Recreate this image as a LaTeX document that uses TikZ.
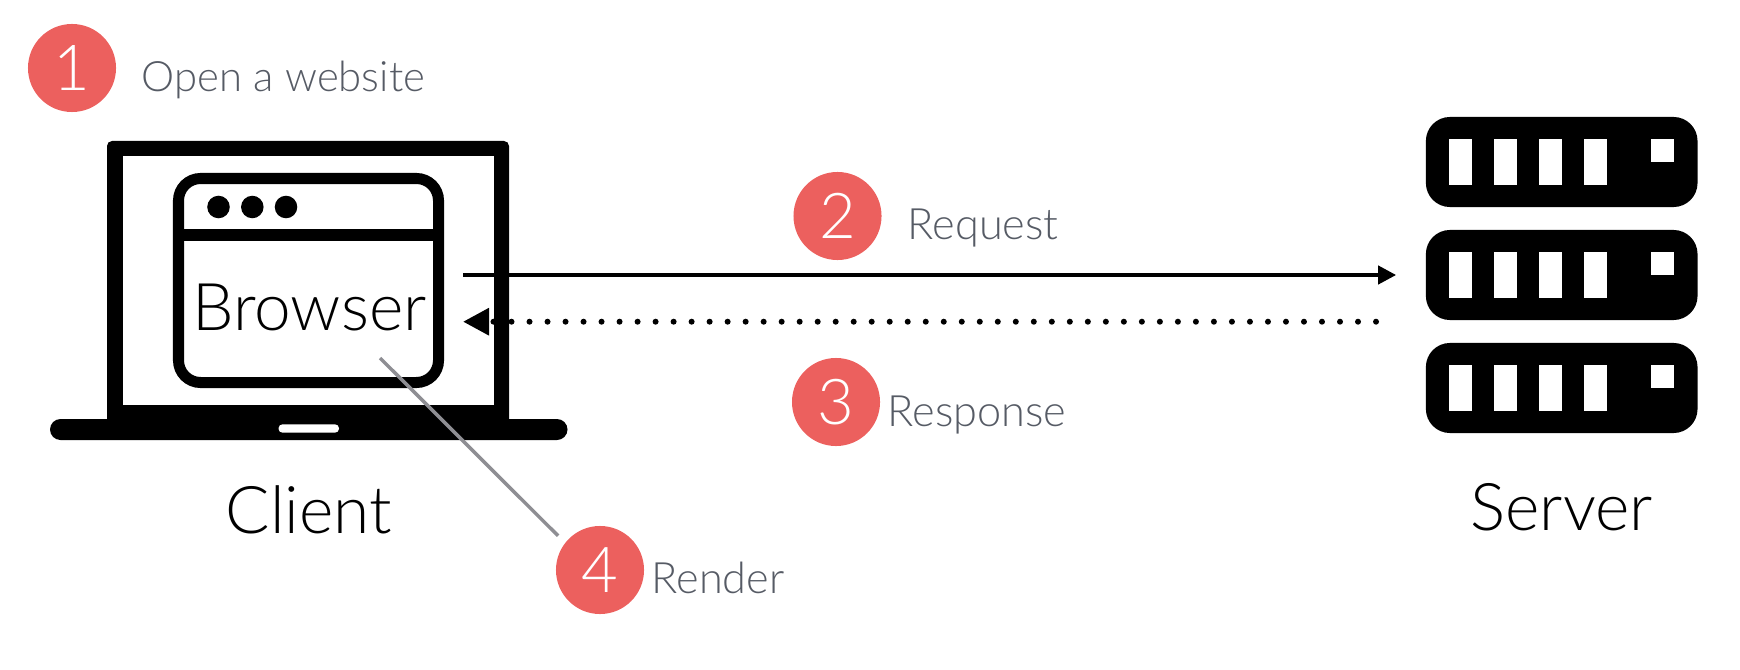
\documentclass[tikz,border=0pt]{standalone}
\usepackage{fontspec}
\setmainfont{Lato Light}
\usetikzlibrary{arrows.meta}
\definecolor{badge}{HTML}{EC605E}
\definecolor{caption}{HTML}{565B65}
\definecolor{leader}{HTML}{8E8E93}
\tikzset{
	numdot/.style={circle,fill=badge,text=white,inner sep=0,minimum size=8.8mm,font=\fontsize{18}{20}\selectfont},
	steptext/.style={anchor=base west,inner sep=0,text=caption,font=\fontsize{12.3}{14}\selectfont},
	bigtext/.style={anchor=base,inner sep=0,font=\fontsize{18.7}{22}\selectfont},
	srvbox/.style={fill=black,rounded corners=2.4mm,inner sep=0,minimum width=27.15mm,minimum height=9mm}
}
\begin{document}
\begin{tikzpicture}[x=0.01cm,y=-0.01cm]
\useasboundingbox (0,0) rectangle (1740,670);
\fill [rounded corners=0.5mm] (107,141) rectangle (509,425);
\fill [white] (122.5,156) rectangle (494,405);
\fill [rounded corners=1.05mm] (50,419) rectangle (567.5,440);
\fill [white,rounded corners=0.4mm] (278.5,424.3) rectangle (339,432.7);
\draw [line width=1.1mm,rounded corners=2.2mm] (178.5,178.5) rectangle (438.5,382.5);
\fill (178,229.3) rectangle (439,240.7);
\foreach \x in {218.5,252.3,286} \fill (\x,207) circle (1.125mm);
\node (browser) [bigtext] at (309.5,330.5) {Browser};
\node (client) [bigtext] at (309,533.5) {Client};
\node (server) [bigtext] at (1561.7,530.5) {Server};
\foreach \i/\y in {1/162,2/275,3/388} {
	\node (srv\i) [srvbox] at (1561.7,\y) {};
	\foreach \x in {1448.5,1493.7,1538.5,1583.7} \fill [white] (\x,\y-22.7) rectangle ++(23,45.4);
	\fill [white] (1651.3,\y-22.7) rectangle ++(23,22.7);
}
\coordinate (reqstart) at (463,275);
\coordinate (respstart) at (1376,321.7);
\coordinate (respend) at (463,321.7);
\coordinate (rendertip) at (380,358);
\node (one) [numdot] at (72,68) {1};
\node (two) [numdot] at (837.5,216) {2};
\node (three) [numdot] at (836,402) {3};
\node (four) [numdot] at (600,570) {4};
\node (opentext) [steptext,font=\fontsize{11.9}{14}\selectfont] at (141,91.5) {Open a website};
\node (reqtext) [steptext] at (907,239) {Request};
\node (resptext) [steptext] at (887,426) {Response};
\node (rendertext) [steptext] at (651,593) {Render};
\draw [-{Triangle[length=1.8mm,width=1.8mm]},line width=0.4mm,shorten >=2.9mm] (reqstart) -- (srv2);
\draw [-{Triangle[length=2.6mm,width=2.6mm]},line width=0.6mm,line cap=round,dash pattern=on 0pt off 1.8mm] (respstart) -- (respend);
\draw [leader,line width=0.35mm,shorten >=0.95mm] (rendertip) -- (four.142);
\end{tikzpicture}
\end{document}
